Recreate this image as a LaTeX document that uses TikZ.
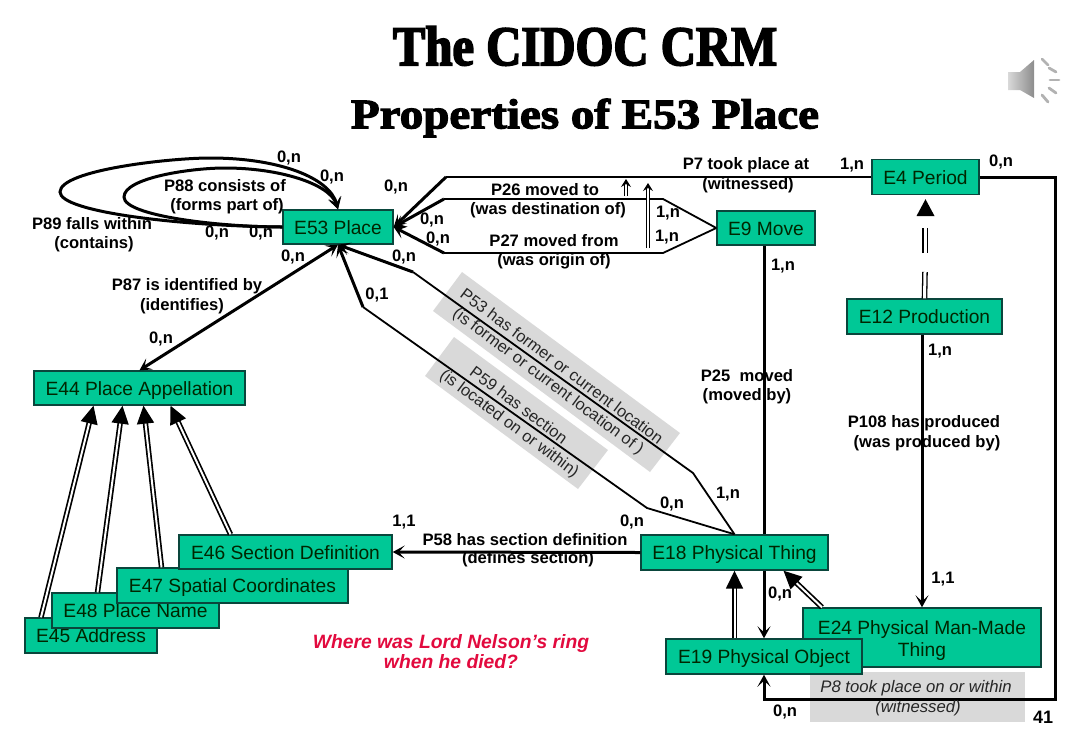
\documentclass[tikz,border=0pt]{standalone}
\usepackage{fontspec}
\setmainfont{Liberation Sans}
\newfontfamily\titlefont[BoldFeatures={FakeStretch=0.87,FakeBold=3}]{Liberation Serif}
\newfontfamily\subtitlefont[BoldFeatures={FakeStretch=1.12,FakeBold=3}]{Liberation Serif}
\usetikzlibrary{arrows.meta}
\definecolor{boxgreen}{RGB}{0,200,150}
\definecolor{boxedge}{RGB}{10,70,60}
\definecolor{greyband}{RGB}{217,217,217}
\definecolor{redtext}{RGB}{226,10,62}
\tikzset{
 box/.style={draw=boxedge,fill=boxgreen,line width=1.4pt,inner sep=0pt,align=center,text=black!85!green,font=\fontsize{19.2}{22.5}\selectfont},
 boxone/.style={box,text height=15.5pt,text depth=1.5pt},
 lab/.style={inner sep=0pt,font=\bfseries\fontsize{16.6}{19}\selectfont,text=black},
 rel/.style={line width=1.8pt},
 heavy/.style={line width=3pt},
 arr/.style={-{Stealth[length=12pt,width=13pt,inset=6pt]}},
 isa/.style={double,double distance=2pt,line width=1.7pt,-{Triangle[length=18pt,width=17pt]}},
 isaline/.style={double,double distance=3pt,line width=1.3pt},
 smallup/.style={double,double distance=1.6pt,line width=1pt,-{Stealth[length=8pt,width=10pt,inset=3pt]}},
 band/.style={fill=greyband,draw=none},
 ital/.style={inner sep=0pt,align=center,font=\itshape\fontsize{16.7}{20}\selectfont,text=black!85},
 rot/.style={inner sep=0pt,align=center,rotate=-36.7,font=\fontsize{16.4}{20}\selectfont,text=black!85},
}
\begin{document}
\begin{tikzpicture}[x=1pt,y=-1pt]
\useasboundingbox (0,0) rectangle (1083,750);
% title
\node[inner sep=0pt,font=\titlefont\bfseries\fontsize{56}{60}\selectfont] (title) at (585,46) {The CIDOC CRM};
\node[inner sep=0pt,font=\subtitlefont\bfseries\fontsize{42}{46}\selectfont] (subtitle) at (585,118) {Properties of E53 Place};
% speaker
\shade[left color=black!15,right color=black!45] (1008,72) -- (1020,72) -- (1034,60) -- (1034,98) -- (1020,90) -- (1008,90) -- cycle;
\foreach \a/\b/\c/\d in {1042/59/1048/65,1049/68/1056/72,1050/80/1059/80,1049/88/1056/93,1042/95/1048/102}
  \draw[black!30,line width=2.8pt,line cap=round] (\a,\b) -- (\c,\d);
% grey bands
\fill[band] (462,272) -- (680,433) -- (650,472) -- (433,311) -- cycle;
\fill[band] (454,337) -- (608,450) -- (578,489) -- (425,376) -- cycle;
\fill[band] (810,672) rectangle (1025,722);
% boxes
\node[boxone,minimum width=110pt,minimum height=34pt] (e53) at (338,227) {E53 Place};
\node[boxone,minimum width=211pt,minimum height=34pt] (e44) at (139.5,388) {E44 Place Appellation};
\node[boxone,minimum width=107pt,minimum height=35pt] (e4) at (925.5,177) {E4 Period};
\node[boxone,minimum width=98pt,minimum height=34pt] (e9) at (766,228) {E9 Move};
\node[boxone,minimum width=155pt,minimum height=35pt] (e12) at (924.5,316.5) {E12 Production};
\node[boxone,minimum width=187pt,minimum height=35pt] (e18) at (734.5,552.5) {E18 Physical Thing};
\node[box,minimum width=238pt,minimum height=59pt] (e24) at (922,637.5) {\rule{0pt}{20pt}E24 Physical Man-Made\\Thing};
\node[boxone,minimum width=196pt,minimum height=35pt] (e19) at (764,656.5) {E19 Physical Object};
\node[boxone,minimum width=132pt,minimum height=35pt] (e45) at (91,635.5) {E45 Address};
\node[boxone,minimum width=167pt,minimum height=35pt] (e48) at (135.5,610.5) {E48 Place Name};
\node[boxone,minimum width=231pt,minimum height=35pt] (e47) at (232.5,585.5) {E47 Spatial Coordinates};
\node[boxone,minimum width=213pt,minimum height=34pt] (e46) at (285.5,552) {E46 Section Definition};
% bends
\coordinate (k7) at (446,177);
\coordinate (k26a) at (663,199); \coordinate (k26b) at (444,199);
\coordinate (k27a) at (663,253); \coordinate (k27b) at (444,253);
\coordinate (k53a) at (693,473); \coordinate (k53b) at (413,272);
\coordinate (k59a) at (647,508); \coordinate (k59b) at (363,307);
\coordinate (k8a) at (1055,177); \coordinate (k8b) at (1055,699); \coordinate (k8c) at (764,699);
% labels under lines
\node[lab] (l25a) at (747,376) {P25\ \ moved};
\node[lab] (l25b) at (747,396) {(moved by)};
\node[lab] (l108a) at (924,423) {P108 has produced};
\node[lab] (l108b) at (927,443) {(was produced by)};
% connectors into E53
\draw[rel] (e4.west) -- (k7);
\draw[heavy,arr] (k7) -- (e53.east);
\draw[rel] (e9.west) -- (k26a) -- (k26b);
\draw[heavy,arr] (k26b) -- (e53.east);
\draw[rel] (e9.west) -- (k27a) -- (k27b);
\draw[heavy,arr] (k27b) -- (e53.east);
\draw[rel] (e18.north) -- (k53a) -- (k53b);
\draw[heavy,arr] (k53b) -- (e53.south);
\draw[rel] (e18.north) -- (k59a) -- (k59b);
\draw[heavy,arr] (k59b) -- (e53.south);
\draw[heavy,{Stealth[length=12pt,width=13pt,inset=6pt]}-{Stealth[length=12pt,width=13pt,inset=6pt]}] (e53.south) -- (e44.north);
% self loops
\draw[heavy,arr] (e53.west) .. controls (180,226) and (60,212) .. (60,192) .. controls (60,170) and (170,158) .. (210,158) .. controls (280,158) and (330,178) .. (e53.north);
\draw[heavy,arr] (e53.west) .. controls (220,227) and (124,216) .. (124,197) .. controls (124,178) and (190,168) .. (225,168) .. controls (280,168) and (330,184) .. (e53.north);
% others
\draw[heavy] (e9.south -| e19.north) -- (e18.north -| e19.north);
\draw[heavy,arr] (e18.south -| e19.north) -- (e19.north);
\draw[heavy,arr] (e12.south -| e24.north) -- (e24.north);
\draw[heavy,arr] (e18.west) -- (e46.east);
\draw[heavy,arr] (e4.east) -- (k8a) -- (k8b) -- (k8c) -- (e19.south);
% isa
\draw[isa] (e19.north -| e18.south) -- (e18.south);
\draw[isa] ([xshift=-100pt]e24.north) -- ([xshift=49pt]e18.south);
\draw[isa] ([xshift=-50pt]e45.north) -- ([xshift=-46pt]e44.south);
\draw[isa] ([xshift=-38pt]e48.north) -- ([xshift=-17pt]e44.south);
\draw[isa] ([xshift=-71pt]e47.north) -- ([xshift=4pt]e44.south);
\draw[isa] ([xshift=-55pt]e46.north) -- ([xshift=31pt]e44.south);
\draw[isaline] (e12.north) -- (925,272);
\draw[isaline] (925,253) -- (925,228);
\path[fill=black] (e4.south) ++(0,4) -- (916.5,216) -- (934.5,216) -- cycle;
\draw[smallup] (626,196) -- (626,179);
\draw[smallup] (648,248) -- (648,183);
% labels
\node[lab] (a1) at (289,158) {0,n};
\node[lab] (a2) at (332,177) {0,n};
\node[lab] (a3) at (225,186) {P88 consists of};
\node[lab] (a4) at (227,206) {(forms part of)};
\node[lab] (a5) at (92,224) {P89 falls within};
\node[lab] (a6) at (94,244) {(contains)};
\node[lab] (a7) at (217,233) {0,n};
\node[lab] (a8) at (261,233) {0,n};
\node[lab] (a9) at (293,257) {0,n};
\node[lab] (a10) at (187,286) {P87 is identified by};
\node[lab] (a11) at (182,306) {(identifies)};
\node[lab] (a12) at (161,339) {0,n};
\node[lab] (a13) at (377,295) {0,1};
\node[lab] (a14) at (404,257) {0,n};
\node[lab] (a15) at (396,187) {0,n};
\node[lab] (a16) at (432,220) {0,n};
\node[lab] (a17) at (438,239) {0,n};
\node[lab] (a18) at (746,165) {P7 took place at};
\node[lab] (a19) at (748,185) {(witnessed)};
\node[lab] (a20) at (852,165) {1,n};
\node[lab] (a21) at (1001,162) {0,n};
\node[lab] (a22) at (545,190) {P26 moved to};
\node[lab] (a23) at (548,210) {(was destination of)};
\node[lab] (a24) at (554,241) {P27 moved from};
\node[lab] (a25) at (554,261) {(was origin of)};
\node[lab] (a26) at (668,213) {1,n};
\node[lab] (a27) at (667,237) {1,n};
\node[lab] (a28) at (783,266) {1,n};
\node[lab] (a29) at (940,351) {1,n};
\node[lab] (a30) at (943,579) {1,1};
\node[lab] (a31) at (780,594) {0,n};
\node[lab] (a32) at (785,712) {0,n};
\node[lab,font=\bfseries\fontsize{18}{20}\selectfont] (a33) at (1043,717) {41};
\node[lab] (a34) at (728,494) {1,n};
\node[lab] (a35) at (672,504) {0,n};
\node[lab] (a36) at (632,522) {0,n};
\node[lab] (a37) at (404,522) {1,1};
\node[lab] (a38) at (525,540) {P58 has section definition};
\node[lab] (a39) at (528,559) {(defines section)};
\node[ital] (p8a) at (916,688) {P8 took place on or within};
\node[ital] (p8b) at (918,708) {(witnessed)};
\node[rot] (p53a) at (562,366) {P53 has former or current location};
\node[rot] (p53b) at (548,382) {(is former or current location of )};
\node[rot] (p59a) at (519,405) {P59 has section};
\node[rot] (p59b) at (509,424) {(is located on or within)};
\node[inner sep=0pt,align=center,text=redtext,font=\bfseries\itshape\fontsize{19.3}{20}\selectfont] (q) at (451,652) {Where was Lord Nelson’s ring\\when he died?};
\end{tikzpicture}
\end{document}
